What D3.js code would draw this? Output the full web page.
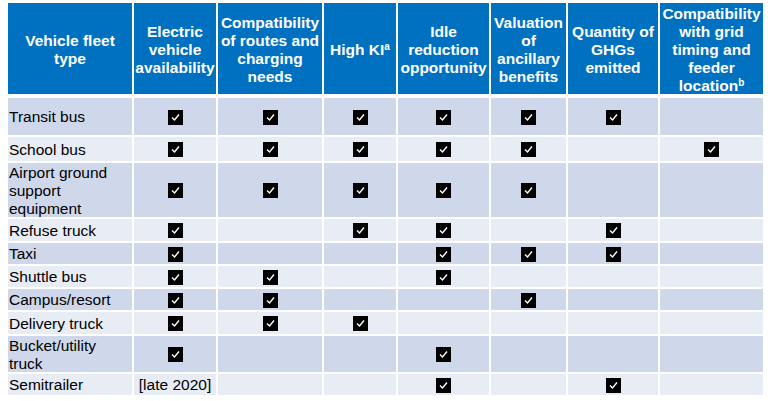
<!DOCTYPE html>
<html><head><meta charset="utf-8">
<script src="https://cdn.jsdelivr.net/npm/d3@7"></script>
<style>html,body{margin:0;padding:0;background:#fff;}svg{display:block;}</style>
</head><body><svg id="c" width="768" height="401"></svg>
<script>
// ---- data ----
const columns = ["type","ev","routes","ki","idle","ancillary","ghg","grid"];
const headerLines = [
  ["Vehicle fleet","type"],
  ["Electric","vehicle","availability"],
  ["Compatibility","of routes and","charging","needs"],
  ["High KI|a"],
  ["Idle","reduction","opportunity"],
  ["Valuation","of","ancillary","benefits"],
  ["Quantity of","GHGs","emitted"],
  ["Compatibility","with grid","timing and","feeder","location|b"]
];
const fleetTypes = ["Transit bus","School bus","Airport ground support equipment","Refuse truck","Taxi","Shuttle bus","Campus/resort","Delivery truck","Bucket/utility truck","Semitrailer"];
const fleetLabelLines = [["Transit bus"],["School bus"],["Airport ground","support","equipment"],["Refuse truck"],["Taxi"],["Shuttle bus"],["Campus/resort"],["Delivery truck"],["Bucket/utility","truck"],["Semitrailer"]];
const evAvailability = [1,1,1,1,1,1,1,1,1,"[late 2020]"];
const routesCompat   = [1,1,1,0,0,1,1,1,0,0];
const highKI         = [1,1,1,1,0,0,0,1,0,0];
const idleReduction  = [1,1,1,1,1,1,0,0,1,1];
const ancillary      = [1,1,1,0,1,0,1,0,0,0];
const ghgQuantity    = [1,0,0,1,1,0,0,0,0,1];
const gridCompat     = [0,1,0,0,0,0,0,0,0,0];
const seriesValues = [evAvailability,routesCompat,highKI,idleReduction,ancillary,ghgQuantity,gridCompat];

// ---- layout (not data) ----
const colEdges = [8,133,217,323,397,490,567,659,763];
const headerTop = 3, headerBottom = 94;
const rowEdges = [98,137,163,219,243,266,289,312,336,374,397];
const gap = 2;
const headerBlue = "#0070c0", darkRow = "#cfd8ea", lightRow = "#e8ecf5";
const font = "'Liberation Sans', Arial, sans-serif";
const fs = 15.5;

const xScale = d3.scaleOrdinal().domain(columns).range(colEdges.slice(0,-1));
const wScale = d3.scaleOrdinal().domain(columns).range(colEdges.slice(1).map((e,i)=>e-colEdges[i]));
const yScale = d3.scaleOrdinal().domain(fleetTypes).range(rowEdges.slice(0,-1));
const hScale = d3.scaleOrdinal().domain(fleetTypes).range(rowEdges.slice(1).map((e,i)=>e-rowEdges[i]));

const svg = d3.select("#c");
const lineH = 18;

// header
const hdr = svg.append("g");
columns.forEach((c,i)=>{
  const x0 = xScale(c) + (i===0?0:gap/2);
  const w = wScale(c) - (i===0?gap/2:gap) - (i===columns.length-1? -gap/2:0);
  hdr.append("rect").attr("x",x0).attr("y",headerTop).attr("width",w).attr("height",headerBottom-headerTop).attr("fill",headerBlue);
  const lines = headerLines[i];
  const cy = 49;
  const t = hdr.append("text").attr("font-family",font).attr("font-size",fs).attr("font-weight","bold")
    .attr("fill","#fff").attr("text-anchor","middle");
  lines.forEach((ln,j)=>{
    const y = cy + (j-(lines.length-1)/2)*lineH + 5.5;
    const parts = ln.split("|");
    t.append("tspan").attr("x",x0+w/2).attr("y",y).text(parts[0]);
    if(parts[1]) t.append("tspan").attr("font-size",10).attr("dy",-5).text(parts[1]);
  });
});

// body
const body = svg.append("g");
fleetTypes.forEach((f,r)=>{
  const y0 = yScale(f), h = hScale(f) - gap;
  const fill = r%2===0 ? darkRow : lightRow;
  columns.forEach((c,i)=>{
    const x0 = xScale(c) + (i===0?0:gap/2);
    const w = wScale(c) - (i===0?gap/2:gap) - (i===columns.length-1? -gap/2:0);
    body.append("rect").attr("x",x0).attr("y",y0).attr("width",w).attr("height",h).attr("fill",fill);
    const cy = y0 + h/2;
    if(i===0){
      const lines = fleetLabelLines[r];
      const t = body.append("text").attr("font-family",font).attr("font-size",fs).attr("fill","#000");
      lines.forEach((ln,j)=>{
        t.append("tspan").attr("x",x0+1).attr("y",cy+(j-(lines.length-1)/2)*lineH+5.5).text(ln);
      });
    } else {
      const v = seriesValues[i-1][r];
      if(typeof v === "string"){
        body.append("text").attr("font-family",font).attr("font-size",fs).attr("fill","#000")
          .attr("text-anchor","middle").attr("x",x0+w/2).attr("y",cy+5.5).text(v);
      } else if(v){
        const bx = Math.round(x0+w/2-7.5), by = Math.round(cy-7);
        body.append("rect").attr("x",bx).attr("y",by).attr("width",15).attr("height",15).attr("fill","#000");
        body.append("polyline").attr("points",`${bx+4},${by+7.5} ${bx+6.5},${by+10} ${bx+11},${by+4.5}`)
          .attr("fill","none").attr("stroke","#fff").attr("stroke-width",1.4);
      }
    }
  });
});
</script></body></html>
